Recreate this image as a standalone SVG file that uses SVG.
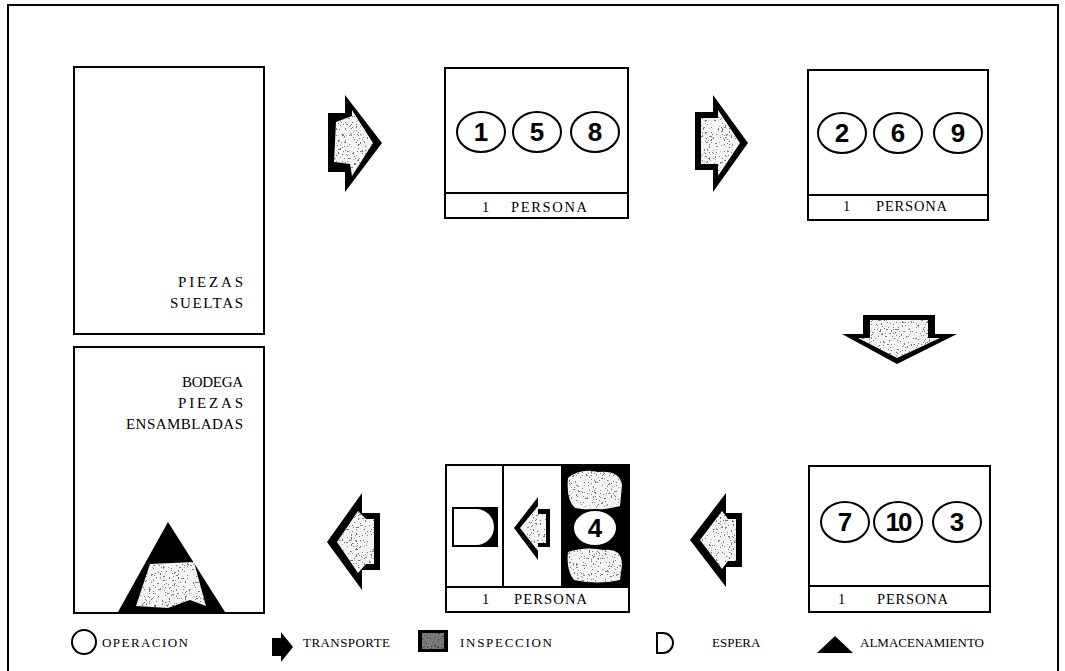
<svg xmlns="http://www.w3.org/2000/svg" width="1065" height="671" viewBox="0 0 1065 671">
<style>
.box{fill:#fff;stroke:#000;stroke-width:2}
.ln{stroke:#000;stroke-width:2;fill:none}
.lbl{font-family:"Liberation Serif",serif;font-size:15px;fill:#000}
.per{font-family:"Liberation Serif",serif;font-size:14.5px;fill:#000}
.leg{font-family:"Liberation Serif",serif;font-size:13px;fill:#000}
.op{fill:#fff;stroke:#000;stroke-width:2}
.num{font-family:"Liberation Sans",sans-serif;font-weight:bold;font-size:26px;fill:#000;text-anchor:middle}
.blk{fill:#000}
.lt{fill:#f4f4f4;filter:url(#speckle)}
</style>
<defs>
<filter id="speckle" x="0" y="0" width="1" height="1">
<feTurbulence type="fractalNoise" baseFrequency="0.55" numOctaves="2" seed="4" result="n"/>
<feColorMatrix in="n" type="matrix" values="0 0 0 0 0.2 0 0 0 0 0.2 0 0 0 0 0.2 0 0 0 -30 10.8" result="dots"/>
<feComposite in="dots" in2="SourceGraphic" operator="in" result="d"/>
<feMerge><feMergeNode in="SourceGraphic"/><feMergeNode in="d"/></feMerge>
</filter>
</defs>
<rect x="8" y="5" width="1050" height="680" fill="none" stroke="#000" stroke-width="2"/>

<g id="piezas-sueltas">
<rect class="box" x="74" y="67" width="190" height="267"/>
<text class="lbl" x="178" y="287" textLength="65" lengthAdjust="spacing">PIEZAS</text>
<text class="lbl" x="170" y="308" textLength="73" lengthAdjust="spacing">SUELTAS</text>
</g>

<g id="bodega">
<rect class="box" x="74" y="347" width="190" height="266"/>
<text class="lbl" x="182" y="387" textLength="61" lengthAdjust="spacing">BODEGA</text>
<text class="lbl" x="178" y="408" textLength="65" lengthAdjust="spacing">PIEZAS</text>
<text class="lbl" x="126" y="429" textLength="117" lengthAdjust="spacing">ENSAMBLADAS</text>
<polygon class="blk" points="118,612 168,522 225,612"/>
<polygon class="lt" points="150,564 194,562 206,606 190,600 168,608 136,606"/>
</g>

<g id="estacion-1-5-8">
<rect class="box" x="445" y="68" width="183" height="150"/>
<line class="ln" x1="445" y1="193" x2="628" y2="193"/>
<ellipse class="op" cx="481" cy="132" rx="24" ry="20"/>
<ellipse class="op" cx="537" cy="132" rx="24" ry="20"/>
<ellipse class="op" cx="595" cy="132" rx="24" ry="20"/>
<text class="num" x="481" y="141">1</text>
<text class="num" x="537" y="141">5</text>
<text class="num" x="595" y="141">8</text>
<text class="per" x="482" y="212">1</text>
<text class="per" x="511" y="212" textLength="76" lengthAdjust="spacing">PERSONA</text>
</g>

<g id="estacion-2-6-9">
<rect class="box" x="808" y="70" width="180" height="150"/>
<line class="ln" x1="808" y1="195" x2="988" y2="195"/>
<ellipse class="op" cx="842" cy="133" rx="24" ry="20"/>
<ellipse class="op" cx="898" cy="133" rx="24" ry="20"/>
<ellipse class="op" cx="958" cy="133" rx="24" ry="20"/>
<text class="num" x="842" y="142">2</text>
<text class="num" x="898" y="142">6</text>
<text class="num" x="958" y="142">9</text>
<text class="per" x="843" y="211">1</text>
<text class="per" x="876" y="211" textLength="71" lengthAdjust="spacing">PERSONA</text>
</g>

<g id="estacion-7-10-3">
<rect class="box" x="809" y="466" width="181" height="146"/>
<line class="ln" x1="809" y1="586" x2="990" y2="586"/>
<ellipse class="op" cx="845" cy="522" rx="24" ry="20"/>
<ellipse class="op" cx="898" cy="522" rx="24" ry="20"/>
<ellipse class="op" cx="957" cy="522" rx="24" ry="20"/>
<text class="num" x="845" y="531">7</text>
<text class="num" x="898" y="531" letter-spacing="-2">10</text>
<text class="num" x="957" y="531">3</text>
<text class="per" x="838" y="604">1</text>
<text class="per" x="877" y="604" textLength="71" lengthAdjust="spacing">PERSONA</text>
</g>

<g id="estacion-4">
<rect class="box" x="446" y="465" width="183" height="147"/>
<line class="ln" x1="446" y1="587" x2="629" y2="587"/>
<line class="ln" x1="503" y1="465" x2="503" y2="587"/>
<line class="ln" x1="562" y1="465" x2="562" y2="587"/>
<rect class="blk" x="452" y="507" width="46" height="40"/>
<path d="M454,509 H476 A18,18 0 0 1 476,545 H454 Z" fill="#fff"/>
<polygon class="blk" points="514,528 538,497 538,509 550,509 550,547 538,547 538,560"/>
<polygon class="lt" points="520,528 538,506 538,514 546,514 546,543 538,543 538,551"/>
<rect class="blk" x="562" y="465" width="67" height="122"/>
<path class="lt" d="M568,478 Q580,468 598,472 Q620,470 622,485 L620,506 Q598,512 575,508 Q566,500 568,478 Z"/>
<path class="lt" d="M568,552 Q585,546 604,550 Q622,548 622,565 L620,580 Q598,585 574,580 Q566,570 568,552 Z"/>
<ellipse class="op" cx="595" cy="528" rx="22" ry="18"/>
<text class="num" x="595" y="537">4</text>
<text class="per" x="482" y="604">1</text>
<text class="per" x="514" y="604" textLength="73" lengthAdjust="spacing">PERSONA</text>
</g>

<g id="conectores">
<polygon class="blk" points="328,113 345,113 345,95 382,143 345,192 345,172 328,172"/>
<polygon class="lt" points="336,122 352,116 352,110 373,143 352,176 350,164 334,162"/>
<polygon class="blk" points="695,112 713,112 713,95 748,143 713,192 713,170 695,170"/>
<polygon class="lt" points="701,118 718,118 718,110 740,143 718,176 718,164 701,164"/>
<polygon class="blk" points="863,315 935,315 935,334 957,334 897,364 842,334 863,334"/>
<polygon class="lt" points="870,320 928,320 928,338 940,338 897,358 858,338 870,338"/>
<polygon class="blk" points="690,540 726,493 726,513 742,513 742,567 726,567 726,587"/>
<polygon class="lt" points="700,540 722,511 728,519 736,519 736,561 728,561 722,569"/>
<polygon class="blk" points="327,542 362,493 362,513 380,513 380,570 362,570 362,590"/>
<polygon class="lt" points="337,542 358,511 366,519 374,519 374,564 366,564 358,573"/>
</g>

<g id="leyenda">
<circle cx="84" cy="642" r="12" fill="none" stroke="#000" stroke-width="2"/>
<text class="leg" x="102" y="647" textLength="86" lengthAdjust="spacing">OPERACION</text>
<polygon class="blk" points="272,638 281,638 281,632 293,647 281,662 281,656 272,656"/>
<text class="leg" x="303" y="647" textLength="87" lengthAdjust="spacing">TRANSPORTE</text>
<rect class="blk" x="418" y="630" width="30" height="22"/>
<rect class="lt" x="422" y="633" width="22" height="16" opacity="0.5"/>
<text class="leg" x="460" y="647" textLength="92" lengthAdjust="spacing">INSPECCION</text>
<path d="M657,633 H663 A10,10 0 0 1 663,653 H657 Z" fill="none" stroke="#000" stroke-width="2"/>
<text class="leg" x="712" y="647" font-size="12">ESPERA</text>
<polygon class="blk" points="817,653 835,636 853,653"/>
<text class="leg" x="860" y="647" font-size="12">ALMACENAMIENTO</text>
</g>
</svg>
